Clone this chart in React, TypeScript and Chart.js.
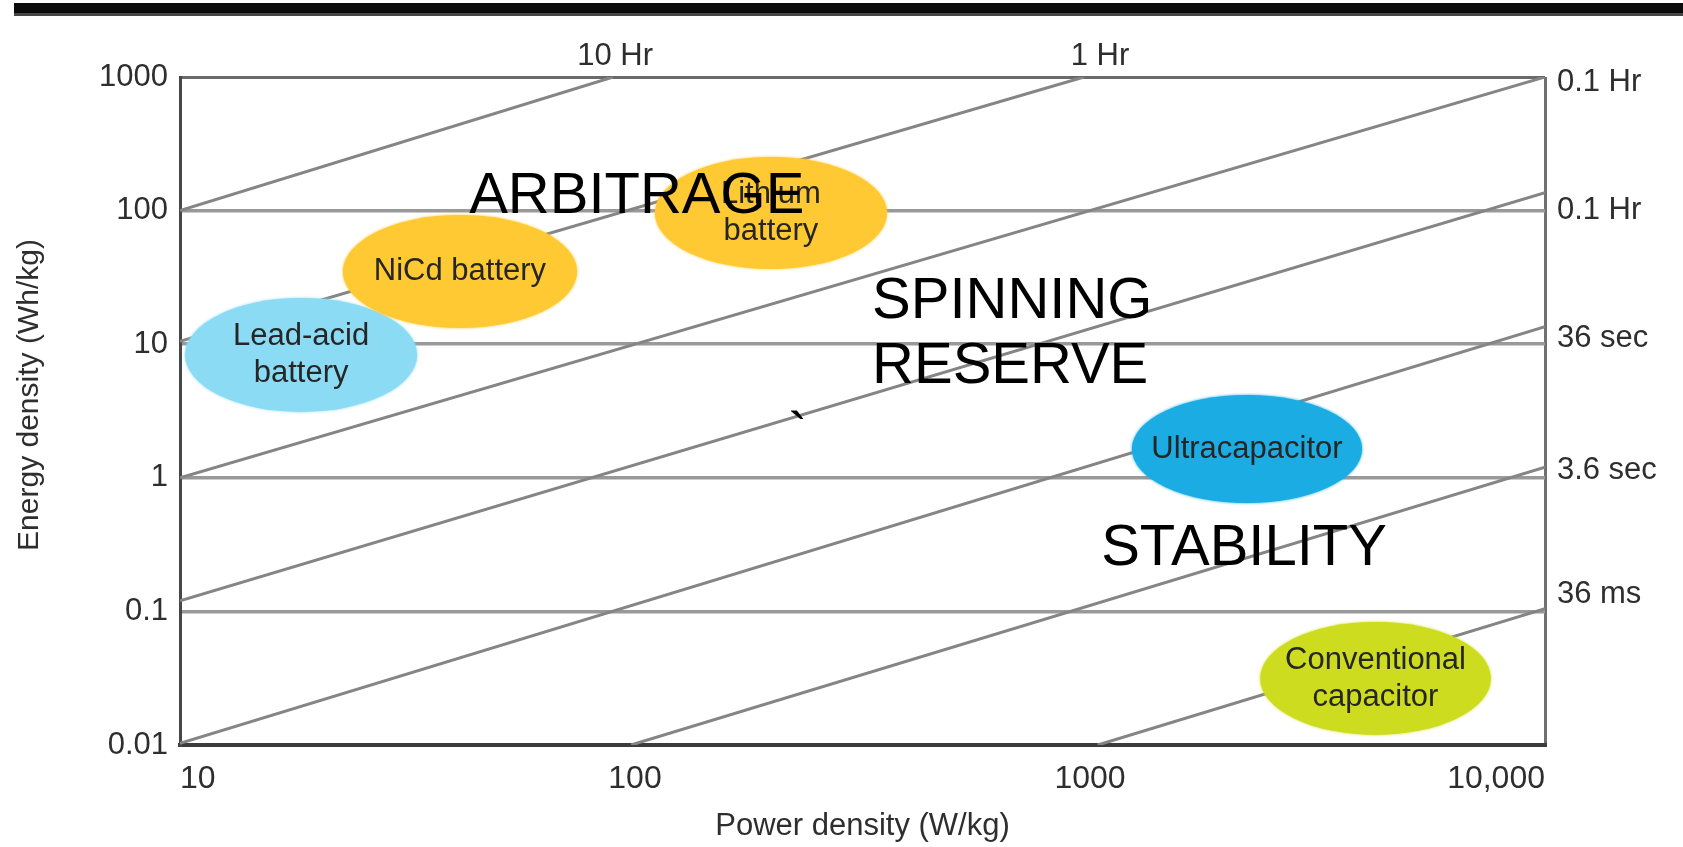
import React, { useEffect, useRef } from "react";
import { Chart, registerables } from "chart.js";

Chart.register(...registerables);

const FONT = "'Liberation Sans', Arial, Helvetica, sans-serif";

// ---- axes ----
const xMin = 10;
const xMax = 10000;
const yMin = 0.01;
const yMax = 1000;
const xTickValues = [10, 100, 1000, 10000];
const xTickLabels = ["10", "100", "1000", "10,000"];
const yTickValues = [0.01, 0.1, 1, 10, 100, 1000];
const yTickLabels = ["0.01", "0.1", "1", "10", "100", "1000"];
const xTitle = "Power density (W/kg)";
const yTitle = "Energy density (Wh/kg)";

// ---- constant discharge-time lines (W/kg, Wh/kg) ----
const timeLineStartP = [10, 10, 10, 10, 10, 98, 1040];
const timeLineStartE = [100, 10.5, 1, 0.12, 0.0103, 0.01, 0.01];
const timeLineEndP = [89.5, 970, 10000, 10000, 10000, 10000, 10000];
const timeLineEndE = [1000, 1000, 1000, 136, 13.5, 1.2, 0.105];

// ---- time labels ----
const timeLabels = ["10 Hr", "1 Hr", "0.1 Hr", "0.1 Hr", "36 sec", "3.6 sec", "36 ms"];
const timeLabelP = [90.4, 1052, 10620, 10620, 10620, 10620, 10620];
const timeLabelE = [1230, 1230, 918, 101, 11.1, 1.14, 0.133];

// ---- technologies (ranges) ----
const techNames = ["Lead-acid\nbattery", "NiCd battery", "Lithium\nbattery", "Ultracapacitor", "Conventional\ncapacitor"];
const techPowerMin = [10.26, 22.8, 110.6, 1236, 2366];
const techPowerMax = [33.2, 74.6, 358, 3963, 7603];
const techEnergyMin = [3.11, 13.2, 36.5, 0.647, 0.0119];
const techEnergyMax = [22.2, 92.7, 252, 4.17, 0.0833];
const techColors = ["#8cdbf5", "#ffc934", "#ffc934", "#1aace2", "#cddc1e"];

// ---- application zones ----
const zoneLabels = ["ARBITRAGE", "SPINNING\nRESERVE", "STABILITY", "`"];
const zoneLabelP = [43.2, 332, 1058, 217];
const zoneLabelE = [95.9, 15.7, 0.222, 1.545];

const isVal = (a: number, b: number) => Math.abs(Math.log10(a) - Math.log10(b)) < 1e-6;

const overlayPlugin = {
  id: "ragoneOverlay",
  afterDatasetsDraw(chart: any) {
    const { ctx } = chart;
    const xs = chart.scales.x;
    const ys = chart.scales.y;
    techNames.forEach((name, i) => {
      const x1 = xs.getPixelForValue(techPowerMin[i]);
      const x2 = xs.getPixelForValue(techPowerMax[i]);
      const y1 = ys.getPixelForValue(techEnergyMax[i]);
      const y2 = ys.getPixelForValue(techEnergyMin[i]);
      const cx = (x1 + x2) / 2;
      const cy = (y1 + y2) / 2;
      ctx.save();
      ctx.fillStyle = techColors[i];
      ctx.shadowColor = techColors[i];
      ctx.shadowBlur = 3;
      ctx.beginPath();
      ctx.ellipse(cx, cy, (x2 - x1) / 2, (y2 - y1) / 2, 0, 0, Math.PI * 2);
      ctx.fill();
      ctx.restore();
      ctx.save();
      ctx.fillStyle = "#262626";
      ctx.font = `31px ${FONT}`;
      ctx.textAlign = "center";
      ctx.textBaseline = "middle";
      const lines = name.split("\n");
      const lh = 37;
      lines.forEach((ln, j) => {
        ctx.fillText(ln, cx, cy + (j - (lines.length - 1) / 2) * lh);
      });
      ctx.restore();
    });
  },
  afterDraw(chart: any) {
    const { ctx, chartArea } = chart;
    const xs = chart.scales.x;
    const ys = chart.scales.y;
    // time labels
    ctx.save();
    ctx.fillStyle = "#2e2e2e";
    ctx.font = `31px ${FONT}`;
    timeLabels.forEach((t, i) => {
      const px = xs.getPixelForValue(timeLabelP[i]);
      const py = ys.getPixelForValue(timeLabelE[i]);
      if (timeLabelE[i] > yMax) {
        ctx.textAlign = "center";
        ctx.textBaseline = "alphabetic";
      } else {
        ctx.textAlign = "left";
        ctx.textBaseline = "middle";
      }
      ctx.fillText(t, px, py);
    });
    ctx.restore();
    // y title
    ctx.save();
    ctx.fillStyle = "#2e2e2e";
    ctx.font = `30px ${FONT}`;
    ctx.textAlign = "center";
    ctx.textBaseline = "middle";
    ctx.translate(ys.left + 30, (chartArea.top + chartArea.bottom) / 2 - 16);
    ctx.rotate(-Math.PI / 2);
    ctx.fillText(yTitle, 0, 0);
    ctx.restore();
    // zone labels
    ctx.save();
    ctx.fillStyle = "#000";
    ctx.font = `58px ${FONT}`;
    ctx.textAlign = "left";
    ctx.textBaseline = "alphabetic";
    zoneLabels.forEach((z, i) => {
      const px = xs.getPixelForValue(zoneLabelP[i]);
      const py = ys.getPixelForValue(zoneLabelE[i]);
      z.split("\n").forEach((ln, j) => ctx.fillText(ln, px, py + j * 65));
    });
    ctx.restore();
  },
};

export default function App() {
  const ref = useRef<HTMLCanvasElement | null>(null);
  useEffect(() => {
    if (!ref.current) return;
    const datasets = timeLineStartP.map((p, i) => ({
      label: `t${i}`,
      data: [
        { x: p, y: timeLineStartE[i] },
        { x: timeLineEndP[i], y: timeLineEndE[i] },
      ],
      showLine: true,
      borderColor: "#858585",
      borderWidth: 3,
      pointRadius: 0,
      fill: false,
    }));
    const chart = new Chart(ref.current, {
      type: "scatter",
      data: { datasets },
      plugins: [overlayPlugin],
      options: {
        responsive: false,
        animation: false,
        devicePixelRatio: 1,
        events: [],
        layout: { padding: { top: 77, right: 138, bottom: 0, left: 0 } },
        plugins: { legend: { display: false }, tooltip: { enabled: false } },
        scales: {
          x: {
            type: "logarithmic",
            position: "bottom",
            min: xMin,
            max: xMax,
            afterBuildTicks: (s: any) => {
              s.ticks = xTickValues.map((v) => ({ value: v }));
            },
            afterFit: (s: any) => {
              s.height = 102;
            },
            ticks: {
              align: "inner",
              autoSkip: false,
              maxRotation: 0,
              padding: 15,
              color: "#2e2e2e",
              font: { family: FONT, size: 32 },
              callback: (v: any) => xTickLabels[xTickValues.findIndex((t) => isVal(t, v))],
            },
            grid: {
              drawTicks: false,
              lineWidth: 3,
              color: (c: any) => (c.tick && isVal(c.tick.value, xMax) ? "#707070" : "rgba(0,0,0,0)"),
            },
            border: { color: "#3c3c3c", width: 4 },
            title: {
              display: true,
              text: xTitle,
              color: "#2e2e2e",
              font: { family: FONT, size: 31 },
              padding: { top: 0, bottom: 2 },
            },
          },
          y: {
            type: "logarithmic",
            position: "left",
            min: yMin,
            max: yMax,
            afterBuildTicks: (s: any) => {
              s.ticks = yTickValues.map((v) => ({ value: v }));
            },
            afterFit: (s: any) => {
              s.width = 180;
            },
            ticks: {
              autoSkip: false,
              padding: 12,
              color: "#2e2e2e",
              font: { family: FONT, size: 31 },
              callback: (v: any) => yTickLabels[yTickValues.findIndex((t) => isVal(t, v))],
            },
            grid: {
              drawTicks: false,
              lineWidth: (c: any) => (c.tick && isVal(c.tick.value, yMax) ? 3 : 3.5),
              color: (c: any) => {
                if (!c.tick) return "rgba(0,0,0,0)";
                if (isVal(c.tick.value, yMax)) return "#6a6a6a";
                if (isVal(c.tick.value, yMin)) return "rgba(0,0,0,0)";
                return "#999999";
              },
            },
            border: { color: "#474747", width: 3 },
          },
        },
      } as any,
    });
    return () => chart.destroy();
  }, []);
  return (
    <div style={{ position: "absolute", left: 0, top: 0, width: 1683, height: 847, background: "#fff" }}>
      <div
        style={{
          position: "absolute",
          left: 14,
          top: 3,
          width: 1669,
          height: 10,
          background: "#0b0b0b",
          borderBottom: "3px solid #444",
        }}
      />
      <canvas ref={ref} width={1683} height={847} style={{ position: "absolute", left: 0, top: 0, display: "block" }} />
    </div>
  );
}
